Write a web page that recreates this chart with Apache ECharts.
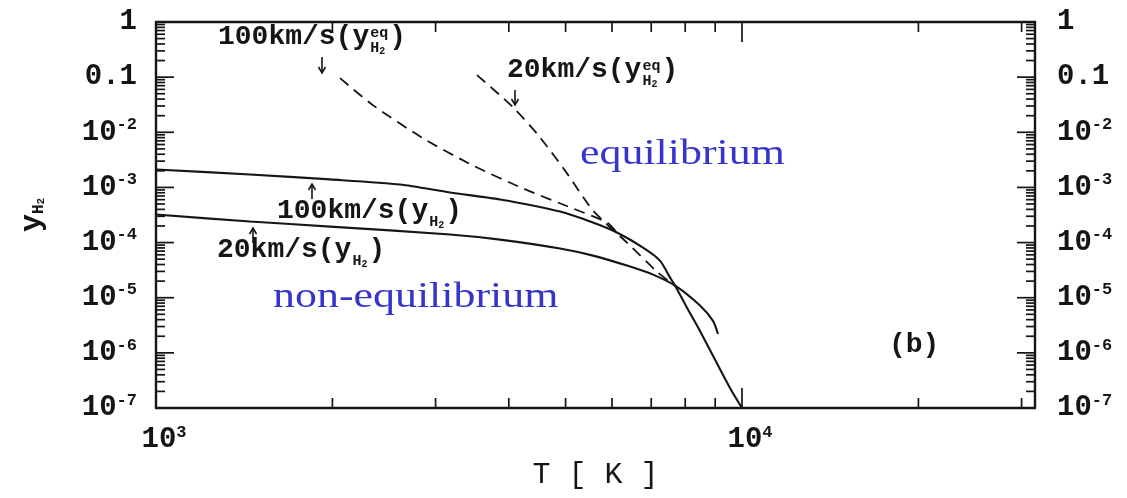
<!DOCTYPE html>
<html>
<head>
<meta charset="utf-8">
<script src="https://cdn.jsdelivr.net/npm/echarts@6/dist/echarts.min.js"></script>
<style>
  html, body { margin: 0; padding: 0; background: #fff; }
  #chart { width: 1127px; height: 498px; }
</style>
</head>
<body>
<div id="chart"></div>
<script>
// H2 fraction versus temperature behind shocks of 20 and 100 km/s

// non-equilibrium abundance, 100 km/s shock
const T_NEQ_100 = [1000, 1447, 1982, 2609, 3175, 3864, 4891, 5568, 6117, 6778, 7244, 7539, 7689, 8056, 8478, 9539, 10000];
const Y_NEQ_100 = [2.12e-3, 1.72e-3, 1.40e-3, 1.13e-3, 8.1e-4, 6.05e-4, 3.66e-4, 2.31e-4, 1.52e-4, 8.1e-5, 4.71e-5, 2.31e-5, 1.65e-5, 6.6e-6, 2.5e-6, 2.31e-7, 1.0e-7];

// non-equilibrium abundance, 20 km/s shock
const T_NEQ_20 = [1000, 1447, 1982, 3175, 3864, 4891, 5568, 6363, 7048, 7689, 8478, 8923, 9100];
const Y_NEQ_20 = [3.23e-4, 2.41e-4, 1.95e-4, 1.40e-4, 1.13e-4, 7.8e-5, 5.8e-5, 3.82e-5, 2.62e-5, 1.65e-5, 7.2e-6, 3.8e-6, 2.2e-6];

// equilibrium abundance, 100 km/s shock
const T_EQ_100 = [2061, 2346, 2855, 3475, 4229, 5147, 5884, 6117];
const Y_EQ_100 = [9.6e-2, 3.1e-2, 7.8e-3, 2.5e-3, 9.6e-4, 4.15e-4, 2.31e-4, 1.52e-4];

// equilibrium abundance, 20 km/s shock
const T_EQ_20 = [3530, 4066, 4521, 5028, 5568, 6363, 7190, 7689];
const Y_EQ_20 = [0.109, 2.85e-2, 8.1e-3, 1.8e-3, 3.82e-4, 1.0e-4, 2.85e-5, 1.65e-5];

// axis ranges and decade labels
const X_RANGE = [1000, 31623];
const Y_RANGE = [1e-7, 1];
const X_DECADES = [1e3, 1e4];
const X_TICK_LABELS = ['10^3', '10^4'];
const Y_DECADES = [1e-7, 1e-6, 1e-5, 1e-4, 1e-3, 1e-2, 1e-1, 1];
const Y_TICK_LABELS = ['10^-7', '10^-6', '10^-5', '10^-4', '10^-3', '10^-2', '0.1', '1'];

const INK = '#151515';
const BLUE = '#3535cc';
const MONO = '"Liberation Mono", "DejaVu Sans Mono", monospace';
const SERIF = '"Liberation Serif", "DejaVu Serif", serif';

const exp10 = v => Math.round(Math.log10(v));

function richPow(s) {
  const i = s.indexOf('^');
  return i < 0 ? '{b|' + s + '}' : '{b|' + s.slice(0, i) + '}{s|' + s.slice(i + 1) + '}';
}
function decadeFormatter(decades, labels) {
  return v => {
    const idx = decades.findIndex(d => exp10(d) === exp10(v) && Math.abs(Math.log10(v) - exp10(v)) < 1e-6);
    return idx < 0 ? '' : richPow(labels[idx]);
  };
}
const tickRich = {
  b: { fontFamily: MONO, fontWeight: 'bold', fontSize: 29, color: INK, lineHeight: 32 },
  s: { fontFamily: MONO, fontWeight: 'bold', fontSize: 17, color: INK, lineHeight: 17, verticalAlign: 'top' }
};

// log-spaced tick marks around the frame
const yTickData = [];
Y_DECADES.forEach((d, i) => {
  yTickData.push([X_RANGE[0], d, 1]);
  if (i < Y_DECADES.length - 1) for (let k = 2; k <= 9; k++) yTickData.push([X_RANGE[0], k * d, 0]);
});
const xTickData = [];
X_DECADES.forEach(d => {
  xTickData.push([d, Y_RANGE[0], 1]);
  for (let k = 2; k <= 9; k++) if (k * d <= X_RANGE[1]) xTickData.push([k * d, Y_RANGE[0], 0]);
});

function tickLine(x1, y1, x2, y2) {
  return { type: 'line', shape: { x1, y1, x2, y2 }, style: { stroke: INK, lineWidth: 1.7 } };
}

function curve(name, T, Y, dashed) {
  return {
    name, type: 'line', xAxisIndex: 0, yAxisIndex: 0,
    data: T.map((t, i) => [t, Y[i]]),
    symbol: 'none', smooth: 0.25, silent: true, z: 3,
    lineStyle: { color: INK, width: dashed ? 1.8 : 2.1, type: dashed ? [11, 7] : 'solid' }
  };
}

// text helpers
const measureCtx = document.createElement('canvas').getContext('2d');
function textWidth(str, font) { measureCtx.font = font; return measureCtx.measureText(str).width; }
function txt(x, y, text, font, fill) {
  return { type: 'text', x, y, silent: true,
    style: { text, font, fill: fill || INK, align: 'left', verticalAlign: 'middle', textAlign: 'left', textVerticalAlign: 'middle' } };
}
function speciesLabel(left, cy, base, withEq) {
  const big = 'bold 28px ' + MONO, small = 'bold 15px ' + MONO, tiny = 'bold 10px ' + MONO;
  const wb = textWidth(base, big);
  const kids = [txt(0, 0, base, big)];
  const sx = wb + 1;
  let ws = textWidth('H', small) + textWidth('2', tiny);
  if (withEq) { kids.push(txt(sx, -4, 'eq', small)); ws = Math.max(ws, textWidth('eq', small)); }
  kids.push(txt(sx, 11, 'H', small));
  kids.push(txt(sx + textWidth('H', small), 14, '2', tiny));
  kids.push(txt(sx + ws + 1, 0, ')', big));
  return { type: 'group', x: left, y: cy, silent: true, children: kids };
}
function arrow(x, yFrom, yTo) {
  const dir = Math.sign(yTo - yFrom);
  return [
    { type: 'line', silent: true, shape: { x1: x, y1: yFrom, x2: x, y2: yTo }, style: { stroke: INK, lineWidth: 1.6 } },
    { type: 'polyline', silent: true, shape: { points: [[x - 3.5, yTo - dir * 6], [x, yTo], [x + 3.5, yTo - dir * 6]] },
      style: { stroke: INK, fill: null, lineWidth: 1.6 } }
  ];
}

const chart = echarts.init(document.getElementById('chart'), null, { renderer: 'canvas' });

const logAxisCommon = { type: 'log', logBase: 10, splitLine: { show: false }, axisTick: { show: false },
  axisLine: { show: true, lineStyle: { color: INK, width: 2.4 } } };

chart.setOption({
  animation: false,
  backgroundColor: '#ffffff',
  grid: { left: 156, top: 22, width: 879, height: 386, containLabel: false },
  xAxis: [
    Object.assign({}, logAxisCommon, {
      position: 'bottom', min: X_RANGE[0], max: X_RANGE[1], interval: 1,
      axisLabel: { margin: 16, padding: [0, 0, 0, 16], formatter: decadeFormatter(X_DECADES, X_TICK_LABELS), rich: tickRich },
      name: 'T [ K ]', nameLocation: 'middle', nameGap: 52,
      nameTextStyle: { fontFamily: MONO, fontSize: 30, color: INK }
    }),
    Object.assign({}, logAxisCommon, {
      position: 'top', min: X_RANGE[0], max: X_RANGE[1], interval: 1, axisLabel: { show: false }
    })
  ],
  yAxis: [
    Object.assign({}, logAxisCommon, {
      position: 'left', min: Y_RANGE[0], max: Y_RANGE[1], interval: 1,
      axisLabel: { margin: 19, formatter: decadeFormatter(Y_DECADES, Y_TICK_LABELS), rich: tickRich },
      name: '{a|y}{h|H}{t|2}', nameLocation: 'middle', nameRotate: 90, nameGap: 109,
      nameTextStyle: { rich: {
        a: { fontFamily: MONO, fontWeight: 'bold', fontSize: 30, color: INK, lineHeight: 30 },
        h: { fontFamily: MONO, fontWeight: 'bold', fontSize: 16, color: INK, lineHeight: 15, verticalAlign: 'bottom' },
        t: { fontFamily: MONO, fontWeight: 'bold', fontSize: 11, color: INK, lineHeight: 10, verticalAlign: 'bottom' }
      } }
    }),
    Object.assign({}, logAxisCommon, {
      position: 'right', min: Y_RANGE[0], max: Y_RANGE[1], interval: 1,
      axisLabel: { margin: 22, formatter: decadeFormatter(Y_DECADES, Y_TICK_LABELS), rich: tickRich }
    })
  ],
  series: [
    curve('100 km/s', T_NEQ_100, Y_NEQ_100, false),
    curve('20 km/s', T_NEQ_20, Y_NEQ_20, false),
    curve('100 km/s eq', T_EQ_100, Y_EQ_100, true),
    curve('20 km/s eq', T_EQ_20, Y_EQ_20, true),
    {
      type: 'custom', coordinateSystem: 'cartesian2d', xAxisIndex: 0, yAxisIndex: 0,
      data: yTickData, silent: true, z: 4, clip: false,
      renderItem(params, api) {
        const v = api.value(1), len = api.value(2) ? 18 : 9;
        const l = api.coord([X_RANGE[0], v]), r = api.coord([X_RANGE[1], v]);
        return { type: 'group', children: [tickLine(l[0], l[1], l[0] + len, l[1]), tickLine(r[0] - len, r[1], r[0], r[1])] };
      }
    },
    {
      type: 'custom', coordinateSystem: 'cartesian2d', xAxisIndex: 0, yAxisIndex: 0,
      data: xTickData, silent: true, z: 4, clip: false,
      renderItem(params, api) {
        const t = api.value(0), len = api.value(2) ? 20 : 10;
        const b = api.coord([t, Y_RANGE[0]]), u = api.coord([t, Y_RANGE[1]]);
        return { type: 'group', children: [tickLine(b[0], b[1], b[0], b[1] - len), tickLine(u[0], u[1], u[0], u[1] + len)] };
      }
    }
  ],
  graphic: [
    speciesLabel(218, 37, '100km/s(y', true),
    speciesLabel(507, 70, '20km/s(y', true),
    speciesLabel(277, 211, '100km/s(y', false),
    speciesLabel(217, 250, '20km/s(y', false),
    ...arrow(322, 57, 73),
    ...arrow(515, 90, 105),
    ...arrow(312, 199, 184),
    ...arrow(253, 243, 228),
    { type: 'text', x: 580, y: 155, scaleX: 1.22, silent: true,
      style: { text: 'equilibrium', font: '36px ' + SERIF, fill: BLUE, align: 'left', verticalAlign: 'middle', textAlign: 'left', textVerticalAlign: 'middle' } },
    { type: 'text', x: 273, y: 298, scaleX: 1.22, silent: true,
      style: { text: 'non-equilibrium', font: '36px ' + SERIF, fill: BLUE, align: 'left', verticalAlign: 'middle', textAlign: 'left', textVerticalAlign: 'middle' } },
    txt(889, 345, '(b)', 'bold 28px ' + MONO)
  ]
});
</script>
</body>
</html>
